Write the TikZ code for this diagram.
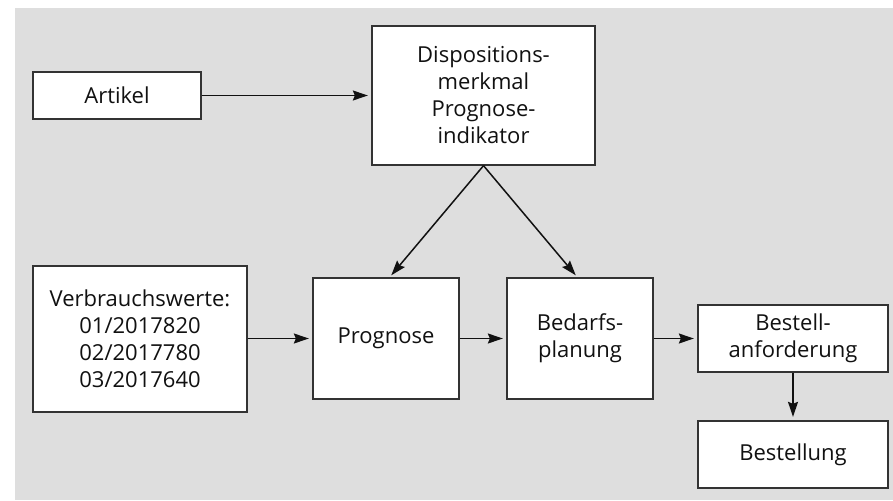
\documentclass[tikz,border=0pt]{standalone}
\usepackage{fontspec}
\setmainfont{Open Sans}
\usetikzlibrary{arrows.meta}
\definecolor{bggray}{HTML}{DEDEDE}
\definecolor{boxline}{HTML}{333333}
\definecolor{txt}{HTML}{111111}
\tikzset{
  box/.style={draw=boxline, line width=1.3pt, fill=white, inner sep=0pt, align=center,
    text=txt, font=\fontsize{22}{27}\selectfont},
  conn/.style={line width=1.5pt, draw=txt, -{Stealth[length=15pt,width=10pt,inset=2pt]}, shorten >=3.5pt}
}
\newcommand{\pbox}[6]{% name, x1, y1, x2, y2, text
  \node[box, minimum width=#4-#2, minimum height=#5-#3] (#1) at ({(#2+#4)/2},{(#3+#5)/2}) {#6};}
\begin{document}
\begin{tikzpicture}[x=1pt,y=-1pt]
\useasboundingbox (0,0) rectangle (893,500);
\fill[bggray] (15,8) rectangle (893,500);
\pbox{art}{33}{72}{201}{119}{Artikel}
\pbox{disp}{372}{26}{595}{165}{Dispositions-\\merkmal\\Prognose-\\indikator}
\pbox{verb}{33}{266}{247}{412}{Verbrauchswerte:\\01/2017820\\02/2017780\\03/2017640}
\pbox{prog}{313}{278}{459}{399}{Prognose}
\pbox{bed}{507}{278}{653}{399}{Bedarfs-\\planung}
\pbox{banf}{698}{305}{888}{372}{Bestell-\\anforderung}
\pbox{best}{698}{421}{888}{488}{Bestellung}
\draw[conn] (art.east) -- (art.east -| disp.west);
\draw[conn] (disp.south) -- (389,278);
\draw[conn] (disp.south) -- (578,278);
\draw[conn] (verb.east |- prog.west) -- (prog.west);
\draw[conn] (prog.east) -- (bed.west);
\draw[conn] (bed.east |- banf.west) -- (banf.west);
\draw[conn] (banf.south) -- (best.north);
\end{tikzpicture}
\end{document}
